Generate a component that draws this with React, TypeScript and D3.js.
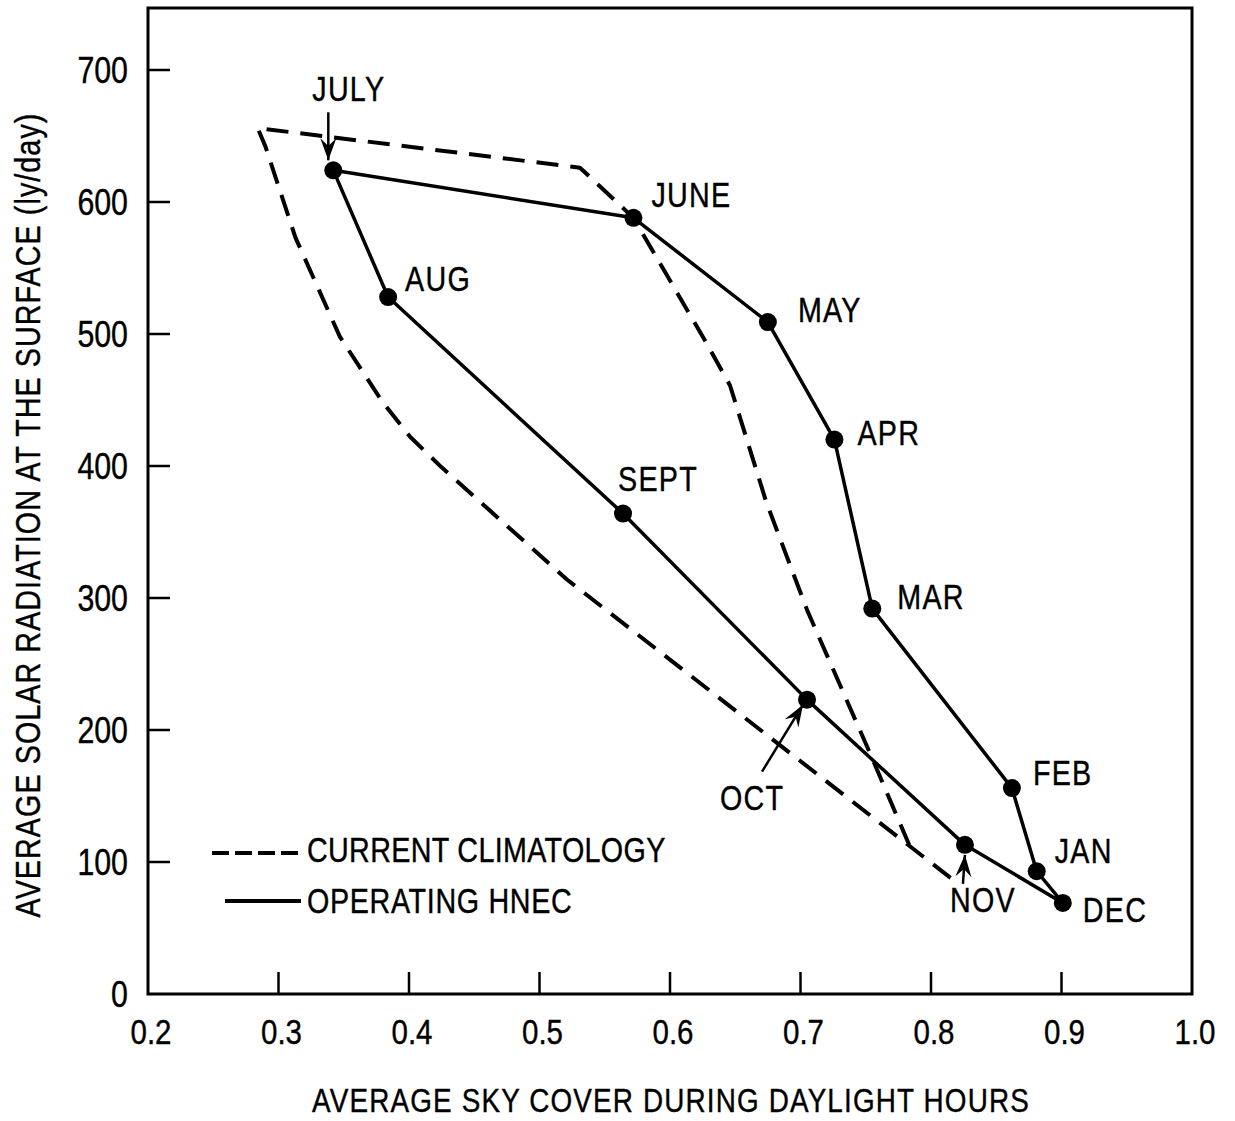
import { useEffect, useRef } from 'react';
import * as d3 from 'd3';

// Operating HNEC, monthly (sky cover, solar radiation ly/day)
const months = ['JAN', 'FEB', 'MAR', 'APR', 'MAY', 'JUNE', 'JULY', 'AUG', 'SEPT', 'OCT', 'NOV', 'DEC'];
const skyCover = [0.881, 0.862, 0.755, 0.726, 0.675, 0.572, 0.342, 0.384, 0.564, 0.705, 0.826, 0.901];
const radiation = [93, 156, 292, 420, 509, 588, 624, 528, 364, 223, 113, 69];

// Current climatology envelope (dashed), traced as one open path
const climSky = [0.815, 0.521, 0.425, 0.401, 0.38, 0.347, 0.313, 0.29, 0.284, 0.531, 0.572, 0.628, 0.646, 0.674, 0.705, 0.753, 0.785];
const climRad = [88, 314, 399, 422, 448, 498, 573, 642, 656, 626, 588, 493, 461, 372, 291, 183, 109];

const xTicks = [0.2, 0.3, 0.4, 0.5, 0.6, 0.7, 0.8, 0.9, 1.0];
const yTicks = [0, 100, 200, 300, 400, 500, 600, 700];

// label offsets from each month's dot (px); arrows for a few of them
const labelOffsets: [number, number][] = [
  [18, -8], [21, -3], [25, 0], [23, 5], [30, 0], [18, -11],
  [-21, -69], [17, -6], [-5, -23], [-87, 110], [-15, 67], [20, 19],
];
const arrows: Record<string, [number, number, number, number]> = {
  JULY: [-5, -58, -5, -10],
  OCT: [-45, 72, -4, 5],
  NOV: [-2, 39, 0, 10],
};

const FONT = "'Liberation Sans', Arial, sans-serif";
const NARROW = 0.82; // squeeze to look like a condensed face

export default function App() {
  const svgRef = useRef<SVGSVGElement>(null);

  useEffect(() => {
    document.body.style.margin = '0';
    if (!svgRef.current) return;
    const svg = d3.select(svgRef.current);
    svg.selectAll('*').remove();

    const x = d3.scaleLinear().domain([0.2, 1.0]).range([148, 1192]);
    const y = d3.scaleLinear().domain([0, 700]).range([994, 70]);
    const top = 8;

    const label = (tx: number, ty: number, str: string, size: number, anchor = 'start', ls = 0, rot = 0) =>
      svg.append('text')
        .attr('transform', `translate(${tx},${ty})${rot ? ` rotate(${rot})` : ''} scale(${NARROW},1)`)
        .attr('text-anchor', anchor)
        .attr('font-family', FONT).attr('font-size', size)
        .attr('letter-spacing', ls)
        .attr('fill', '#000')
        .attr('stroke', '#000').attr('stroke-width', 0.4)
        .text(str);

    // frame
    svg.append('rect')
      .attr('x', x(0.2)).attr('y', top)
      .attr('width', x(1.0) - x(0.2)).attr('height', y(0) - top)
      .attr('fill', 'none').attr('stroke', '#000').attr('stroke-width', 3);

    // inward ticks
    svg.selectAll('.xt')
      .data(xTicks.slice(1, -1))
      .enter().append('line')
      .attr('x1', (d) => x(d)).attr('x2', (d) => x(d))
      .attr('y1', y(0)).attr('y2', y(0) - 22)
      .attr('stroke', '#000').attr('stroke-width', 2.5);
    svg.selectAll('.yt')
      .data(yTicks.slice(1))
      .enter().append('line')
      .attr('x1', x(0.2)).attr('x2', x(0.2) + 22)
      .attr('y1', (d) => y(d)).attr('y2', (d) => y(d))
      .attr('stroke', '#000').attr('stroke-width', 2.5);

    // tick labels
    xTicks.forEach((d) => label(x(d) + 3, 1044, d.toFixed(1), 36, 'middle'));
    yTicks.forEach((d) => label(128, y(d) + 13, String(d), 37, 'end'));

    // axis titles
    label(671, 1112, 'AVERAGE SKY COVER DURING DAYLIGHT HOURS', 34, 'middle', 1.4);
    label(40, 515, 'AVERAGE SOLAR RADIATION AT THE SURFACE (ly/day)', 35, 'middle', 1.3, -90);

    // climatology dashed envelope
    const clim = climSky.map((s, i) => [s, climRad[i]] as [number, number]);
    const line = d3.line<[number, number]>().x((d) => x(d[0])).y((d) => y(d[1]));
    svg.append('path')
      .attr('d', line(clim))
      .attr('fill', 'none').attr('stroke', '#000')
      .attr('stroke-width', 4).attr('stroke-dasharray', '22 12')
      .attr('stroke-linejoin', 'round');

    // operating HNEC closed loop
    const pts = skyCover.map((s, i) => [s, radiation[i]] as [number, number]);
    const loop = d3.line<[number, number]>().x((d) => x(d[0])).y((d) => y(d[1])).curve(d3.curveLinearClosed);
    svg.append('path')
      .attr('d', loop(pts))
      .attr('fill', 'none').attr('stroke', '#000')
      .attr('stroke-width', 3.5).attr('stroke-linejoin', 'round');

    svg.selectAll('.dot')
      .data(pts)
      .enter().append('circle')
      .attr('cx', (d) => x(d[0])).attr('cy', (d) => y(d[1]))
      .attr('r', 9).attr('fill', '#000');

    // month labels
    months.forEach((m, i) =>
      label(x(skyCover[i]) + labelOffsets[i][0], y(radiation[i]) + labelOffsets[i][1], m, 35, 'start', 1.5));

    // pointer arrows
    Object.entries(arrows).forEach(([m, [x1, y1, x2, y2]]) => {
      const i = months.indexOf(m);
      const px = x(skyCover[i]);
      const py = y(radiation[i]);
      const ax = px + x1, ay = py + y1, bx = px + x2, by = py + y2;
      const ang = Math.atan2(by - ay, bx - ax);
      svg.append('line')
        .attr('x1', ax).attr('y1', ay).attr('x2', bx).attr('y2', by)
        .attr('stroke', '#000').attr('stroke-width', 2.5);
      const hl = 22, hw = 8;
      const ca = Math.cos(ang), sa = Math.sin(ang);
      const p = (l: number, w: number) => [bx - l * ca - w * sa, by - l * sa + w * ca];
      const head = [p(0, 0), p(hl, hw), p(hl * 0.65, 0), p(hl, -hw)];
      svg.append('path')
        .attr('d', 'M' + head.map((q) => q.join(',')).join('L') + 'Z')
        .attr('fill', '#000');
    });

    // legend
    svg.append('line')
      .attr('x1', 212).attr('x2', 302).attr('y1', 853).attr('y2', 853)
      .attr('stroke', '#000').attr('stroke-width', 4).attr('stroke-dasharray', '17 6');
    svg.append('line')
      .attr('x1', 225).attr('x2', 301).attr('y1', 901).attr('y2', 901)
      .attr('stroke', '#000').attr('stroke-width', 4);
    label(307, 862, 'CURRENT CLIMATOLOGY', 35, 'start', 0.4);
    label(307, 913, 'OPERATING HNEC', 35, 'start', 0.8);
  }, []);

  return (
    <svg ref={svgRef} width={1235} height={1121} viewBox="0 0 1235 1121" style={{ display: 'block', background: '#fff' }} />
  );
}
